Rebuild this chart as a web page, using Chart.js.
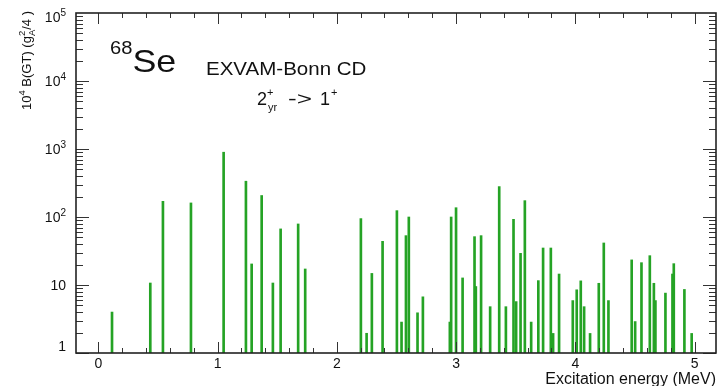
<!DOCTYPE html>
<html lang="en">
<head>
<meta charset="UTF-8">
<title>68Se B(GT) EXVAM-Bonn CD</title>
<script src="https://cdn.jsdelivr.net/npm/chart.js"></script>
<style>
  html, body { margin: 0; padding: 0; background: #fff; }
</style>
</head>
<body>
<canvas id="bgt" width="717" height="386"></canvas>
<script>
// excitation energy (MeV) of each 1+ state
const energies = [
  0.115, 0.436, 0.542, 0.777, 1.051, 1.238, 1.286, 1.370, 1.464, 1.529, 1.676, 1.735,
  2.202, 2.250, 2.294, 2.384, 2.504, 2.543, 2.580, 2.604, 2.677, 2.722,
  2.948, 2.959, 3.000, 3.055, 3.155, 3.166, 3.210, 3.286, 3.362, 3.418, 3.482, 3.504,
  3.541, 3.577, 3.630, 3.690, 3.730, 3.795, 3.814, 3.864,
  3.979, 4.012, 4.046, 4.074, 4.124, 4.197, 4.239, 4.278,
  4.473, 4.502, 4.555, 4.625, 4.659, 4.672, 4.756, 4.815, 4.826, 4.915, 4.976
];
// 10^4 B(GT) in units of gA^2/4
const strengths = [
  4.0, 10.7, 170, 161, 897, 336, 20.4, 207, 10.7, 66.8, 79, 17.2,
  94.7, 1.95, 14.8, 43.9, 124, 2.85, 53.2, 100, 3.9, 6.7,
  2.85, 100, 137, 12.7, 51.4, 9.5, 53.2, 4.8, 280, 4.8, 92.5, 5.7,
  29.2, 174, 2.85, 11.6, 35, 35, 1.94, 14.5,
  5.9, 8.5, 11.5, 4.8, 1.94, 10.6, 41.5, 5.9,
  23.4, 2.9, 21.3, 27, 10.6, 5.9, 7.6, 14.5, 20.6, 8.6, 1.94
];

const xTicks = [0, 1, 2, 3, 4, 5];
const yTicks = [1, 10, 100, 1000, 10000, 100000];
const yTickBase = ['1', '10', '10', '10', '10', '10'];
const yTickExp = ['', '', '2', '3', '4', '5'];

const FONT = '"Liberation Sans", Arial, Helvetica, sans-serif';
const green = '#25a325';

// draw a run of text pieces; pieces with stack:true do not advance x
function drawRich(ctx, parts, x, y) {
  parts.forEach(p => {
    ctx.font = p.size + 'px ' + FONT;
    ctx.fillText(p.t, x, y + (p.dy || 0));
    if (!p.stack) x += ctx.measureText(p.t).width;
  });
  return x;
}
function richWidth(ctx, parts) {
  let w = 0;
  parts.forEach(p => {
    ctx.font = p.size + 'px ' + FONT;
    if (!p.stack) w += ctx.measureText(p.t).width;
  });
  return w;
}

const rootFrame = {
  id: 'rootFrame',
  afterDraw(chart) {
    const ctx = chart.ctx;
    const a = chart.chartArea;
    const xs = chart.scales.x, ys = chart.scales.y;
    ctx.save();
    ctx.fillStyle = '#111';
    ctx.strokeStyle = '#333';
    ctx.lineWidth = 1;

    // inward ticks, bottom and top
    ctx.beginPath();
    for (let k = 0; k <= 25; k++) {
      const v = k * 0.2;
      if (v > xs.max) break;
      const px = Math.round(xs.getPixelForValue(v)) + 0.5;
      const len = k % 5 === 0 ? 11 : 5;
      ctx.moveTo(px, a.bottom); ctx.lineTo(px, a.bottom - len);
      ctx.moveTo(px, a.top); ctx.lineTo(px, a.top + len);
    }
    // inward ticks, left and right (log)
    for (let d = 0; d <= 4; d++) {
      for (let m = 1; m <= 9; m++) {
        const v = m * Math.pow(10, d);
        const py = Math.round(ys.getPixelForValue(v)) + 0.5;
        const len = m === 1 ? 13 : 7;
        ctx.moveTo(a.left, py); ctx.lineTo(a.left + len, py);
        ctx.moveTo(a.right, py); ctx.lineTo(a.right - len, py);
      }
    }
    ctx.stroke();

    ctx.lineWidth = 1.6;
    ctx.strokeStyle = '#222';
    ctx.strokeRect(a.left, a.top, a.right - a.left, a.bottom - a.top);

    // x tick labels
    ctx.textAlign = 'center';
    ctx.textBaseline = 'alphabetic';
    ctx.font = '14px ' + FONT;
    xTicks.forEach(v => {
      ctx.fillText(String(v), xs.getPixelForValue(v), 368);
    });

    // y tick labels with superscripts, right aligned
    ctx.textAlign = 'left';
    yTicks.forEach((v, i) => {
      const parts = [{ t: yTickBase[i], size: 14 }];
      if (yTickExp[i]) parts.push({ t: yTickExp[i], size: 10, dy: -6 });
      const w = richWidth(ctx, parts);
      let base = ys.getPixelForValue(v) + 5;
      base = Math.max(22, Math.min(351, base));
      drawRich(ctx, parts, 66 - w, base);
    });

    // x axis title
    ctx.textAlign = 'right';
    ctx.font = '16px ' + FONT;
    ctx.fillText('Excitation energy (MeV)', 716, 384);

    // y axis title, rotated
    ctx.save();
    ctx.translate(31, 110);
    ctx.rotate(-Math.PI / 2);
    ctx.textAlign = 'left';
    drawRich(ctx, [
      { t: '10', size: 13 }, { t: '4', size: 9.5, dy: -6 },
      { t: ' B(GT) (g', size: 13 },
      { t: '2', size: 9.5, dy: -6, stack: true }, { t: 'A', size: 9.5, dy: 4 },
      { t: '/4 )', size: 13 }
    ], 0, 0);
    ctx.restore();

    // nucleus label and model text
    ctx.textAlign = 'left';
    ctx.save();
    ctx.translate(110, 72);
    ctx.scale(1.12, 1);
    drawRich(ctx, [{ t: '68', size: 18, dy: -18 }, { t: 'Se', size: 32 }], 0, 0);
    ctx.restore();

    ctx.save();
    ctx.translate(206, 75);
    ctx.scale(1.08, 1);
    ctx.font = '19px ' + FONT;
    ctx.fillText('EXVAM-Bonn CD', 0, 0);
    ctx.restore();

    // 2+_yr -> 1+ line, pieces placed to match the reference spacing
    ctx.font = '18px ' + FONT;
    ctx.fillText('2', 257, 105);
    ctx.font = '11px ' + FONT;
    ctx.fillText('+', 267, 96);
    ctx.fillText('yr', 268, 111);
    ctx.save();
    ctx.translate(288, 105);
    ctx.scale(1.45, 1);
    ctx.font = '18px ' + FONT;
    ctx.fillText('->', 0, 0);
    ctx.restore();
    ctx.font = '18px ' + FONT;
    ctx.fillText('1', 320, 105);
    ctx.font = '11px ' + FONT;
    ctx.fillText('+', 331, 96);

    ctx.restore();
  }
};

new Chart(document.getElementById('bgt'), {
  type: 'bar',
  data: {
    datasets: [{
      data: energies.map((e, i) => ({ x: e, y: strengths[i] })),
      backgroundColor: green,
      borderWidth: 0,
      barThickness: 2,
      base: 1
    }]
  },
  options: {
    responsive: false,
    animation: false,
    devicePixelRatio: 1,
    layout: { padding: { left: 76, right: 1, top: 13, bottom: 33 } },
    plugins: { legend: { display: false }, tooltip: { enabled: false } },
    scales: {
      x: { type: 'linear', min: -0.187, max: 5.18, offset: false, display: false },
      y: { type: 'logarithmic', min: 1, max: 100000, display: false }
    }
  },
  plugins: [rootFrame]
});
</script>
</body>
</html>
